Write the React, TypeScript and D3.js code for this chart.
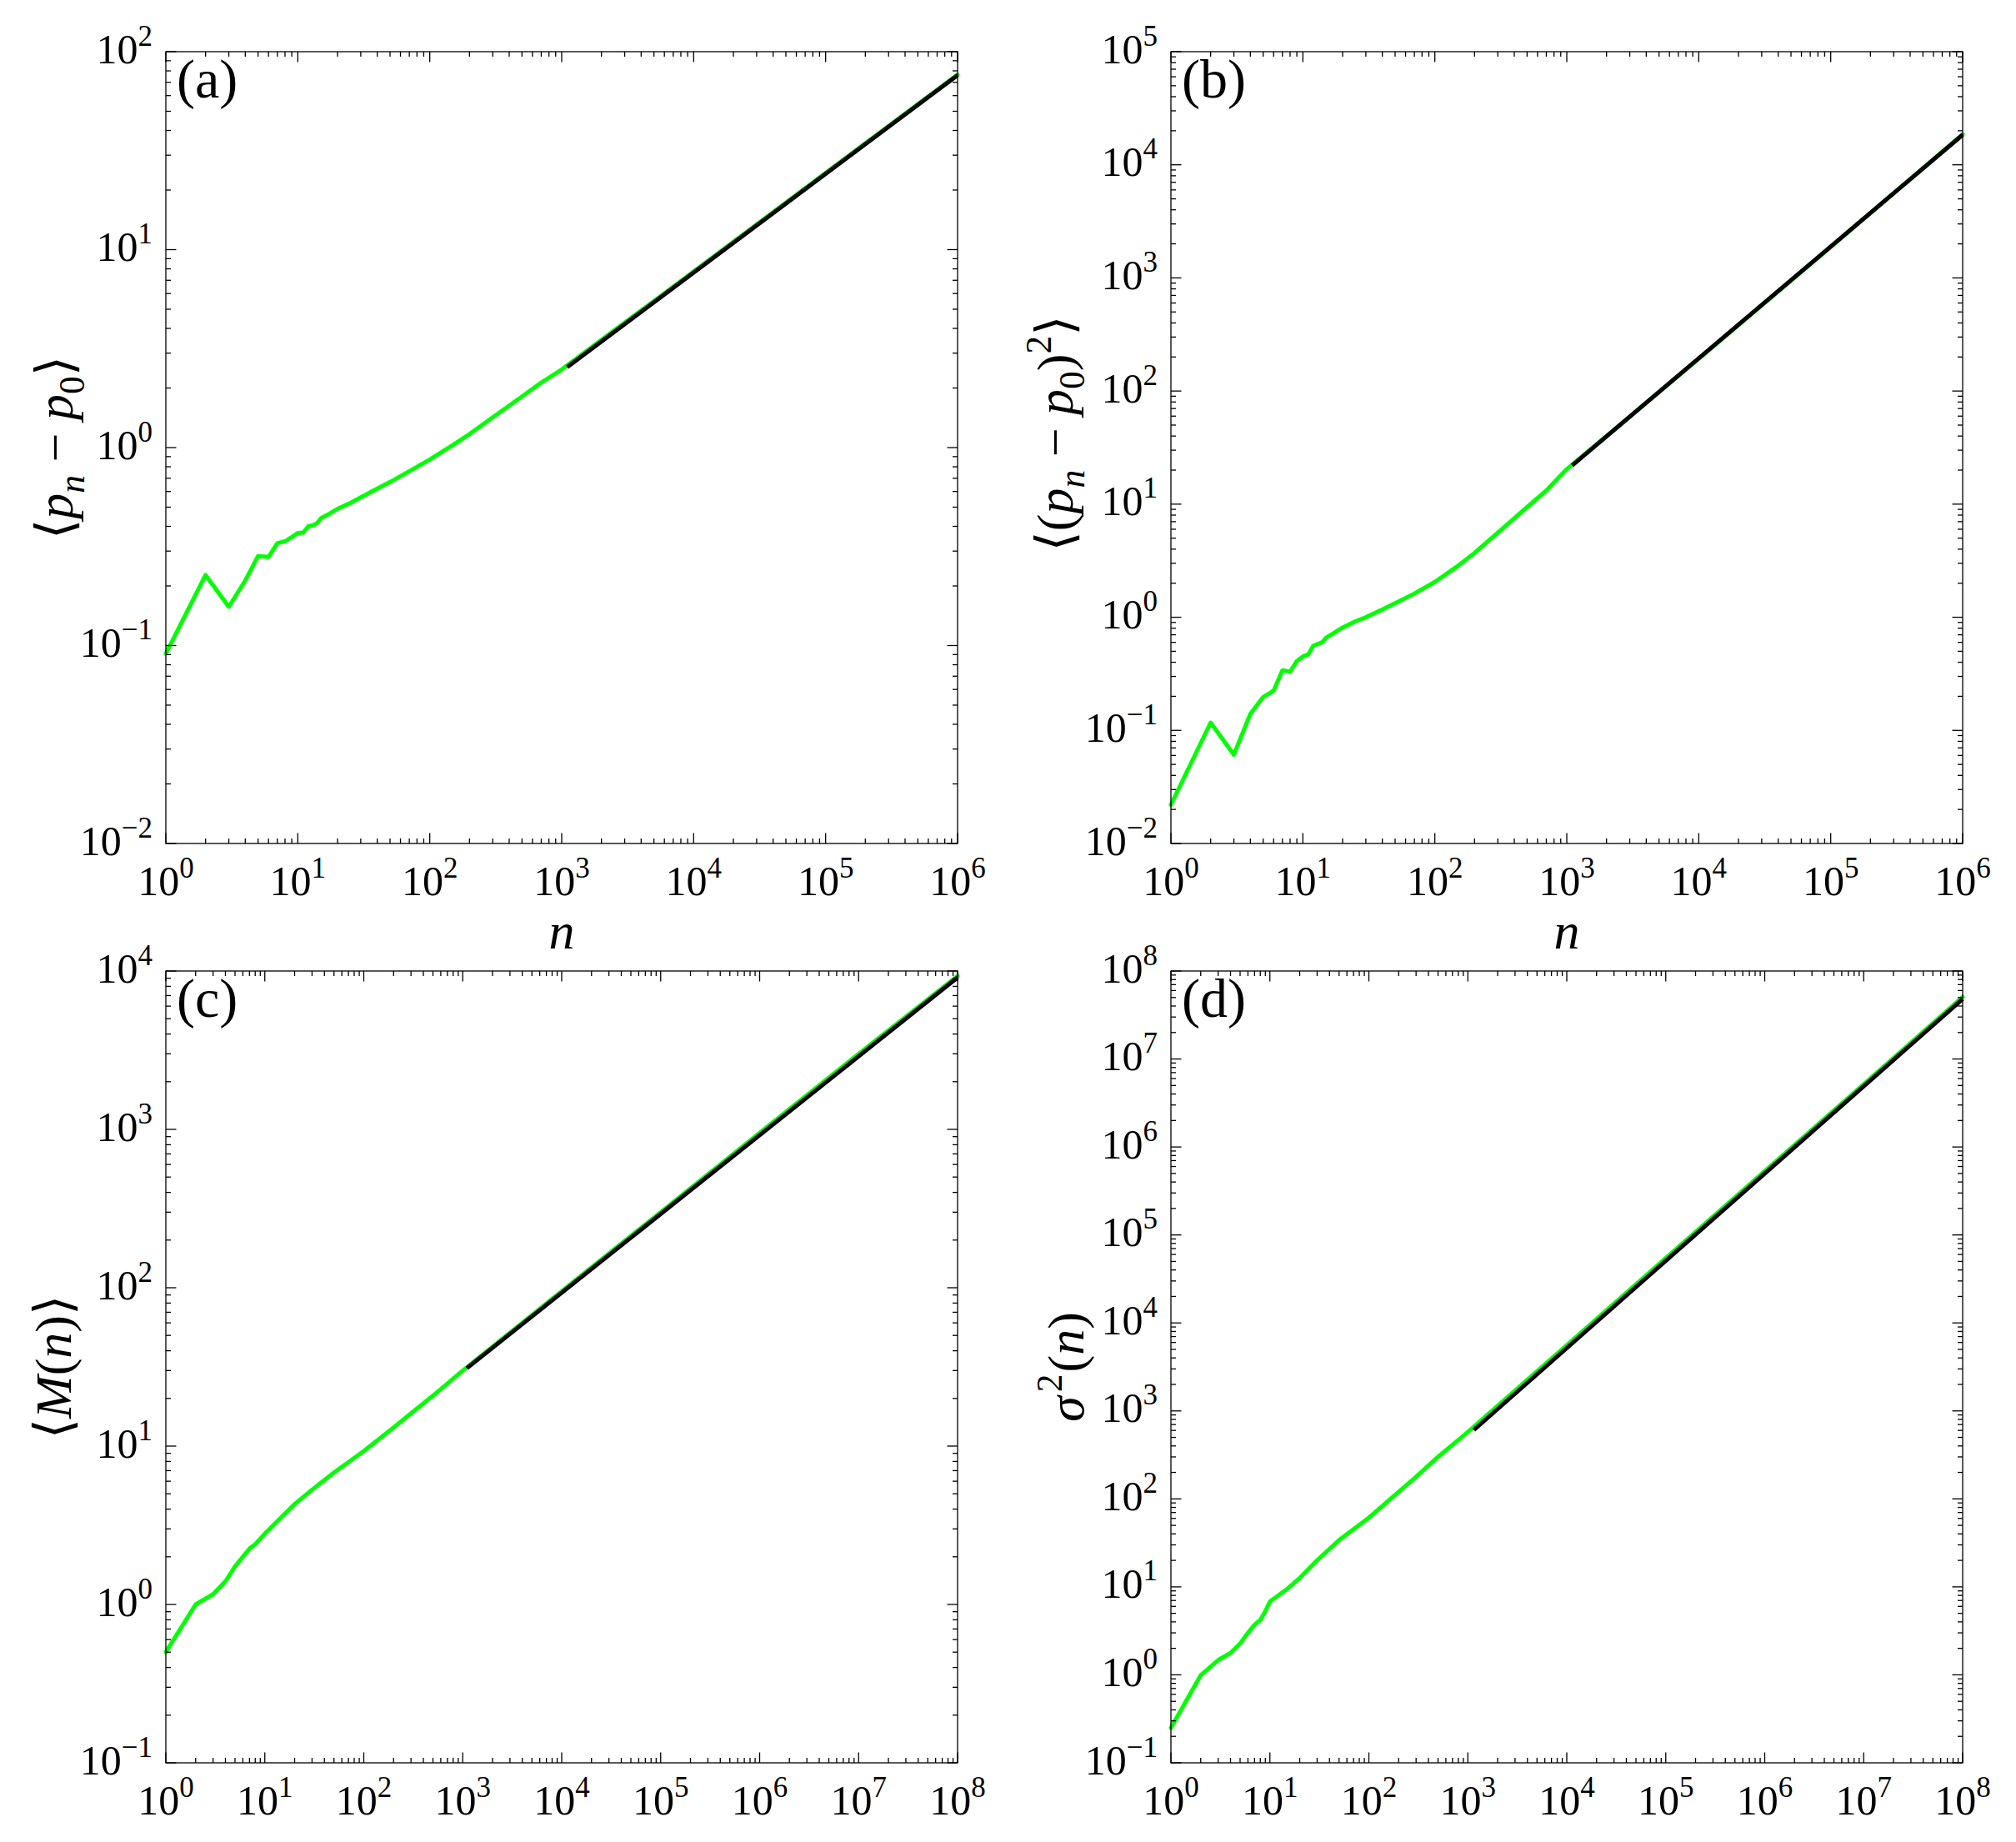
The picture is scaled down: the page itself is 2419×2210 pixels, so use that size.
import React from "react";
import * as d3 from "d3";

const W = 2419, H = 2210;

// ---- data ----
const nA = [1,2,3,4,5,6,7,8,9,10,11,12,13,14,15,17,20,25,30,40,50,70,100,150,200,300,500,700,1000,2000,5000,1e4,1e5,1e6];
const yA = [0.091,0.227,0.157,0.213,0.283,0.28,0.329,0.336,0.353,0.37,0.372,0.4,0.405,0.415,0.44,0.46,0.49,0.525,0.56,0.62,0.67,0.76,0.87,1.03,1.17,1.42,1.81,2.13,2.48,3.5,5.5,7.75,24.4,76.5];
const fitNA = [1100, 1e6];
const fitYA = [2.55, 76];

const nB = [1,2,3,4,5,6,7,8,9,10,11,12,14,15,17,20,25,30,40,50,70,100,150,200,300,500,700,1000,2000,1e4,1e5,1e6];
const yB = [0.022,0.117,0.061,0.14,0.197,0.224,0.34,0.33,0.41,0.45,0.47,0.56,0.6,0.66,0.72,0.81,0.92,1.0,1.17,1.33,1.62,2.05,2.85,3.7,5.6,9.4,13.2,20.4,40,193,1880,18600];
const fitNB = [1100, 1e6];
const fitYB = [22, 18400];

const nC = [1,2,3,4,5,6,7,8,9,10,15,20,30,50,100,200,300,500,1000,1e4,1e5,1e6,1e7,1e8];
const yC = [0.5,1.0,1.16,1.4,1.74,2.0,2.25,2.4,2.6,2.8,3.6,4.3,5.3,6.8,9.3,13.1,16.1,20.8,30,95,300,950,3000,9300];
const fitNC = [1100, 1e8];
const fitYC = [31, 9100];

const nD = [1,2,3,4,5,6,7,8,9,10,15,20,30,50,100,200,300,500,1000,1e4,1e5,1e6,1e7,1e8];
const yD = [0.25,0.99,1.47,1.77,2.27,3.0,3.7,4.2,5.3,6.8,9.5,12.6,20,34,61,120,178,300,575,5600,5.45e4,5.3e5,5.15e6,5.07e7];
const fitND = [1150, 1e8];
const fitYD = [607, 4.8e7];

const xExpAB = [0, 1, 2, 3, 4, 5, 6];
const xExpCD = [0, 1, 2, 3, 4, 5, 6, 7, 8];
const yExpA = [-2, -1, 0, 1, 2];
const yExpB = [-2, -1, 0, 1, 2, 3, 4, 5];
const yExpC = [-1, 0, 1, 2, 3, 4];
const yExpD = [-1, 0, 1, 2, 3, 4, 5, 6, 7, 8];

type Seg = { t: string; it?: boolean; sub?: boolean; sup?: boolean; dx?: number };
const labelA: Seg[] = [{ t: "\u27E8" }, { t: "p", it: true }, { t: "n", it: true, sub: true }, { t: " \u2212 " }, { t: "p", it: true }, { t: "0", sub: true }, { t: "\u27E9" }];
const labelB: Seg[] = [{ t: "\u27E8(" }, { t: "p", it: true }, { t: "n", it: true, sub: true }, { t: " \u2212 " }, { t: "p", it: true }, { t: "0", sub: true }, { t: ")" }, { t: "2", sup: true }, { t: "\u27E9" }];
const labelC: Seg[] = [{ t: "\u27E8" }, { t: "M", it: true }, { t: "(" }, { t: "n", it: true }, { t: ")\u27E9" }];
const labelD: Seg[] = [{ t: "\u03C3", it: true }, { t: "2", sup: true, dx: 5 }, { t: "(", dx: 2 }, { t: "n", it: true }, { t: ")" }];
const labelN: Seg[] = [{ t: "n", it: true }];

const FONT = "'Liberation Serif', 'DejaVu Serif', serif";

function MathText({ segs, size, ...rest }: any) {
  let cur = 0;
  const small = size * 0.7;
  return (
    <text fontFamily={FONT} fontSize={size} {...rest}>
      {segs.map((s: Seg, i: number) => {
        const target = s.sub ? size * 0.22 : s.sup ? -size * 0.42 : 0;
        const dy = target - cur;
        cur = target;
        return (
          <tspan key={i} dy={dy} dx={s.dx || 0} fontSize={s.sub || s.sup ? small : size} fontStyle={s.it ? "italic" : "normal"}>
            {s.t}
          </tspan>
        );
      })}
    </text>
  );
}

function Pow({ e, ...rest }: any) {
  return (
    <text fontFamily={FONT} fontSize={50} {...rest}>
      <tspan>10</tspan>
      <tspan fontSize={35} dy={-21}>{e < 0 ? "\u2212" + Math.abs(e) : String(e)}</tspan>
    </text>
  );
}

function Panel({ left, top, w, h, xExp, yExp, n, y, fitN, fitY, letter, ylab, ylabX, ylabY, xlab }: any) {
  const x = d3.scaleLog().domain([Math.pow(10, xExp[0]), Math.pow(10, xExp[xExp.length - 1])]).range([left, left + w]);
  const ys = d3.scaleLog().domain([Math.pow(10, yExp[0]), Math.pow(10, yExp[yExp.length - 1])]).range([top + h, top]);
  const line = d3.line<number>().x((d, i) => x(n[i])).y((d) => ys(d));
  const fitLine = d3.line<number>().x((d, i) => x(fitN[i])).y((d) => ys(d));
  const bottom = top + h, right = left + w;
  const MAJ = 12.5, MIN = 6;
  const ticks: any[] = [];
  xExp.forEach((e: number, i: number) => {
    const px = x(Math.pow(10, e));
    ticks.push(<line key={"xM" + e} x1={px} x2={px} y1={bottom} y2={bottom - MAJ} />);
    ticks.push(<line key={"xMt" + e} x1={px} x2={px} y1={top} y2={top + MAJ} />);
    if (i < xExp.length - 1) {
      for (let k = 2; k <= 9; k++) {
        const p = x(k * Math.pow(10, e));
        ticks.push(<line key={"xm" + e + "_" + k} x1={p} x2={p} y1={bottom} y2={bottom - MIN} />);
        ticks.push(<line key={"xmt" + e + "_" + k} x1={p} x2={p} y1={top} y2={top + MIN} />);
      }
    }
  });
  yExp.forEach((e: number, i: number) => {
    const py = ys(Math.pow(10, e));
    ticks.push(<line key={"yM" + e} x1={left} x2={left + MAJ} y1={py} y2={py} />);
    ticks.push(<line key={"yMr" + e} x1={right} x2={right - MAJ} y1={py} y2={py} />);
    if (i < yExp.length - 1) {
      for (let k = 2; k <= 9; k++) {
        const p = ys(k * Math.pow(10, e));
        ticks.push(<line key={"ym" + e + "_" + k} x1={left} x2={left + MIN} y1={p} y2={p} />);
        ticks.push(<line key={"ymr" + e + "_" + k} x1={right} x2={right - MIN} y1={p} y2={p} />);
      }
    }
  });
  return (
    <g>
      <path d={line(y) || ""} fill="none" stroke="#00ff00" strokeWidth={5} strokeLinejoin="round" strokeLinecap="round" />
      <path d={fitLine(fitY) || ""} fill="none" stroke="#000" strokeWidth={5} strokeLinecap="butt" />
      <g stroke="#000" strokeWidth={1.3}>{ticks}</g>
      <rect x={left} y={top} width={w} height={h} fill="none" stroke="#000" strokeWidth={1.3} />
      {xExp.map((e: number) => (
        <Pow key={"xl" + e} e={e} x={x(Math.pow(10, e))} y={bottom + 62} textAnchor="middle" />
      ))}
      {yExp.map((e: number) => (
        <Pow key={"yl" + e} e={e} x={left - 16} y={ys(Math.pow(10, e)) + 13.5} textAnchor="end" />
      ))}
      <text x={left + 13} y={top + 55} fontFamily={FONT} fontSize={66}>{letter}</text>
      <MathText segs={ylab} size={62} textAnchor="middle" transform={`translate(${ylabX},${ylabY}) rotate(-90)`} />
      {xlab ? <MathText segs={xlab} size={62} textAnchor="middle" x={left + w / 2} y={bottom + 126} /> : null}
    </g>
  );
}

export default function App() {
  return (
    <svg width={W} height={H} style={{ position: "absolute", left: 0, top: 0, background: "#fff" }}>
      <rect width={W} height={H} fill="#fff" />
      <Panel left={199} top={62} w={950} h={950} xExp={xExpAB} yExp={yExpA} n={nA} y={yA} fitN={fitNA} fitY={fitYA} letter="(a)" ylab={labelA} ylabX={87} ylabY={537} xlab={labelN} />
      <Panel left={1405} top={62} w={950} h={950} xExp={xExpAB} yExp={yExpB} n={nB} y={yB} fitN={fitNB} fitY={fitYB} letter="(b)" ylab={labelB} ylabX={1287} ylabY={520} xlab={labelN} />
      <Panel left={199} top={1165} w={950} h={950} xExp={xExpCD} yExp={yExpC} n={nC} y={yC} fitN={fitNC} fitY={fitYC} letter="(c)" ylab={labelC} ylabX={85} ylabY={1640} />
      <Panel left={1405} top={1165} w={950} h={950} xExp={xExpCD} yExp={yExpD} n={nD} y={yD} fitN={fitND} fitY={fitYD} letter="(d)" ylab={labelD} ylabX={1300} ylabY={1640} />
    </svg>
  );
}
